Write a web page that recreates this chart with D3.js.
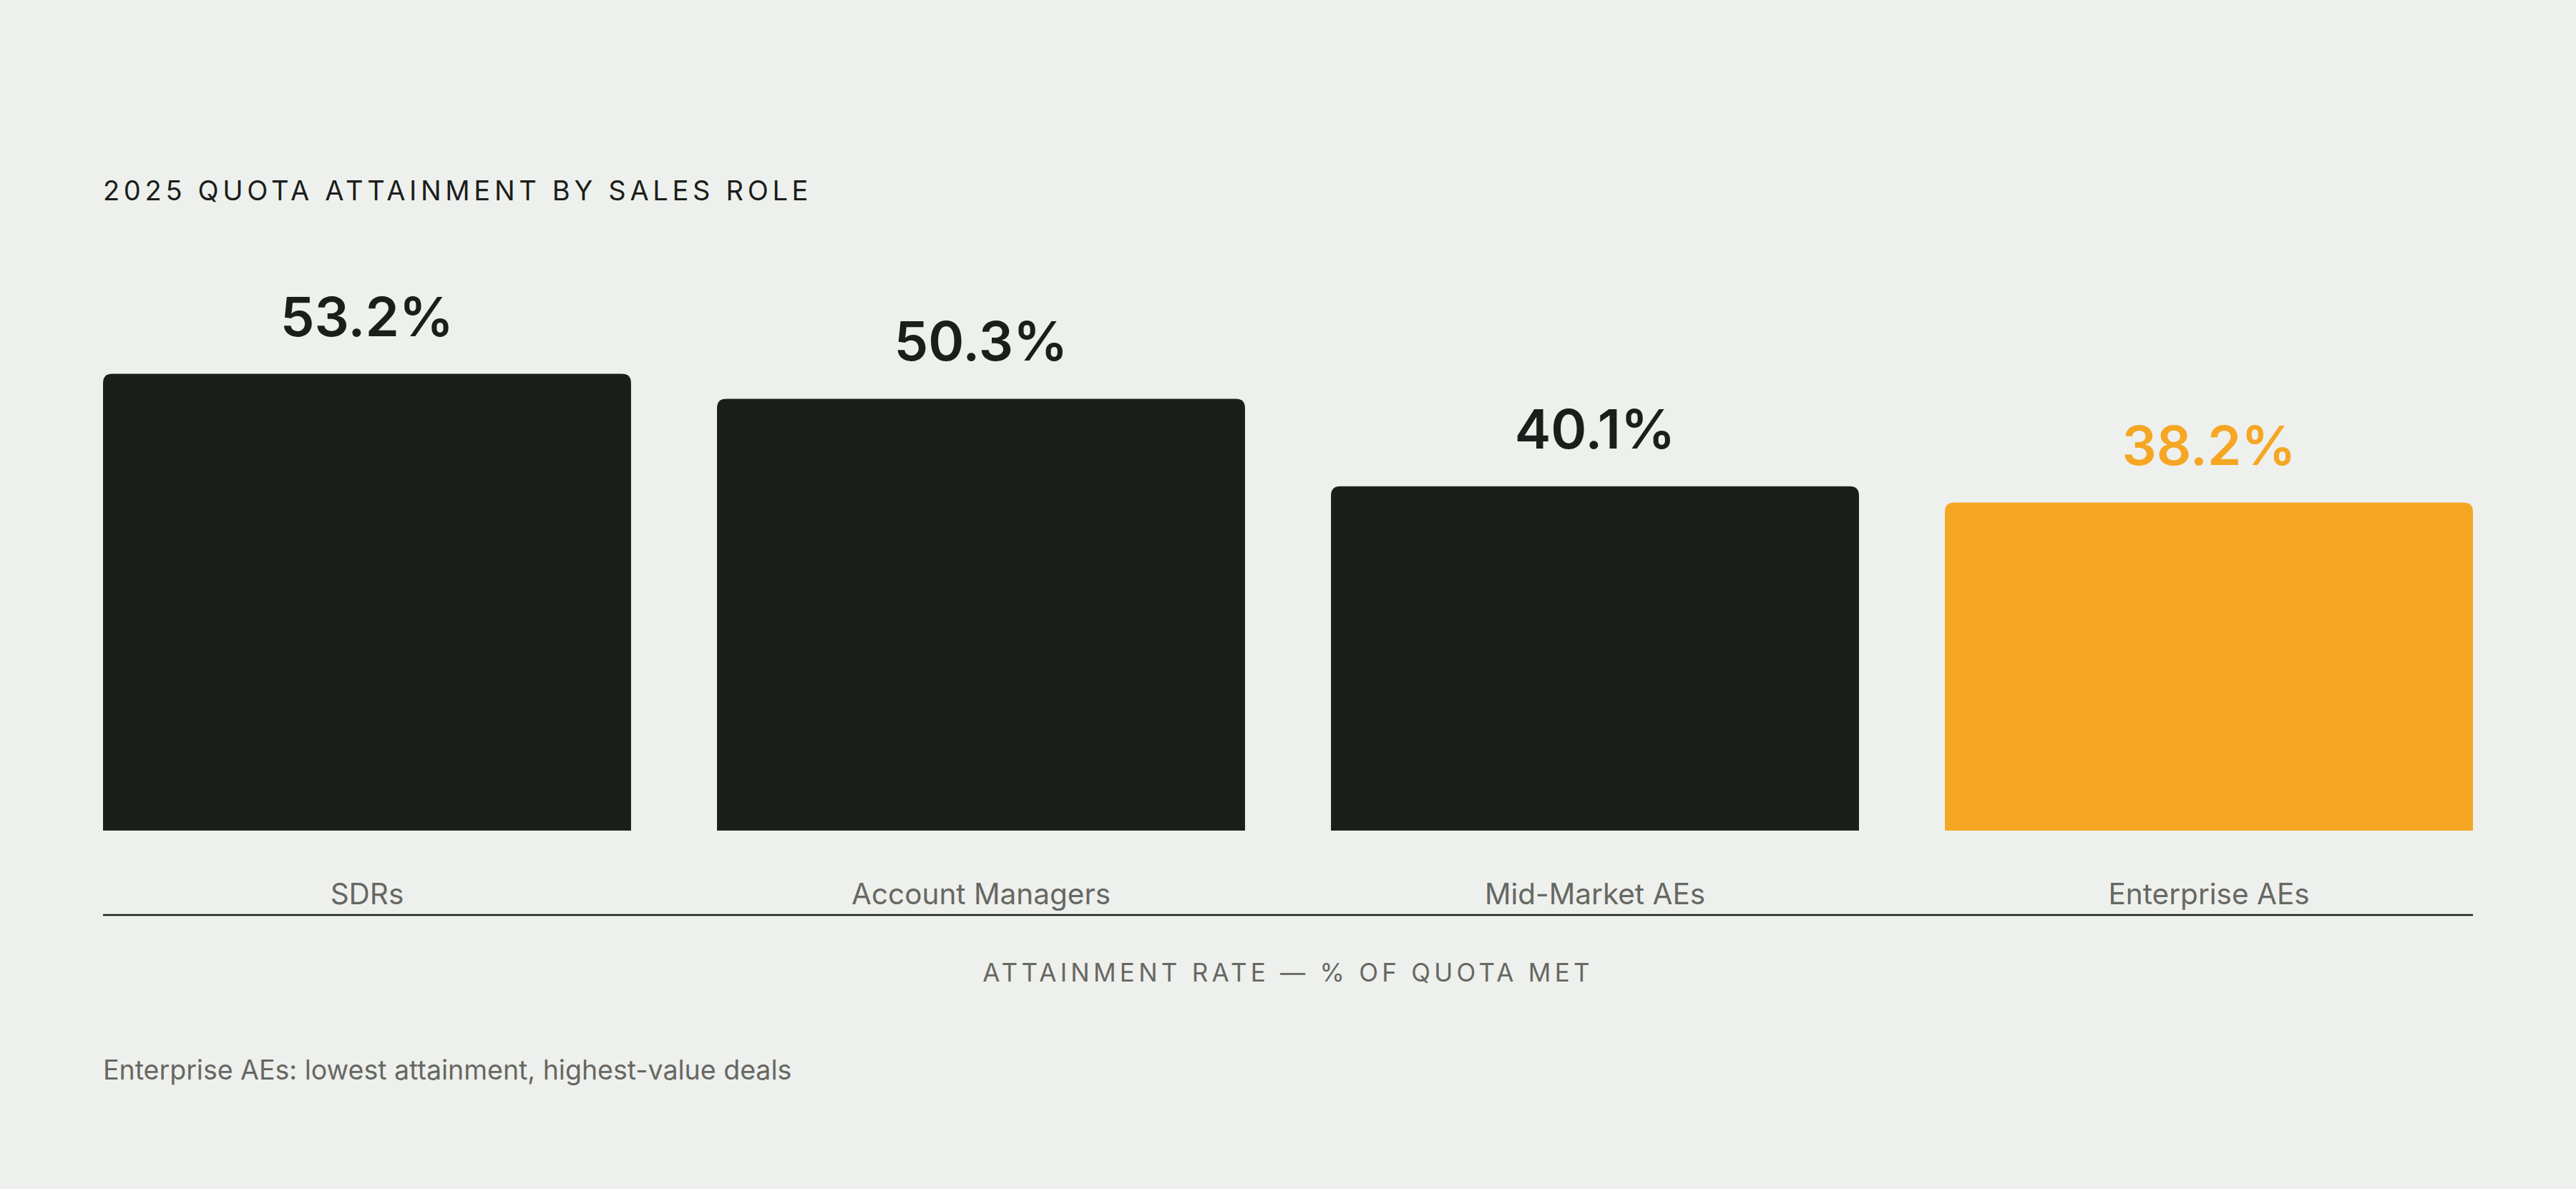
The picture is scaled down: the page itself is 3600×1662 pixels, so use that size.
<!DOCTYPE html>
<html>
<head>
<meta charset="utf-8">
<script src="https://cdn.jsdelivr.net/npm/d3@7"></script>
<style>
  html, body { margin: 0; padding: 0; background: #eef0ed; }
  svg { display: block; font-family: Inter, "Noto Sans", sans-serif; }
</style>
</head>
<body>
<svg id="chart" width="3600" height="1662"></svg>
<script>
const roles = ["SDRs", "Account Managers", "Mid-Market AEs", "Enterprise AEs"];
const attainment = [53.2, 50.3, 40.1, 38.2];
const highlight = "Enterprise AEs";

const TITLE = "2025 QUOTA ATTAINMENT BY SALES ROLE";
const AXIS_TITLE = "ATTAINMENT RATE \u2014 % OF QUOTA MET";
const NOTE = "Enterprise AEs: lowest attainment, highest-value deals";

const svg = d3.select("#chart");
const LEFT = 144;
const RIGHT = 3456;
const BASE = 1161;
const RADIUS = 13;

const data = roles.map((r, i) => ({ role: r, value: attainment[i] }));

let xScale = d3.scaleBand()
               .domain(roles)
               .range([LEFT, RIGHT])
               .paddingInner(0.14)
               .paddingOuter(0);

let yScale = d3.scaleLinear()
               .domain([0, 60])
               .range([BASE, BASE - 720]);

// bar with rounded top corners only
function barPath(d) {
    const x0 = xScale(d.role), x1 = x0 + xScale.bandwidth();
    const y0 = yScale(d.value), y1 = yScale(0);
    const r = RADIUS;
    return `M${x0},${y1}V${y0 + r}Q${x0},${y0} ${x0 + r},${y0}` +
           `H${x1 - r}Q${x1},${y0} ${x1},${y0 + r}V${y1}Z`;
}

svg.append("text")
   .attr("x", LEFT)
   .attr("y", 280)
   .attr("font-size", 38)
   .attr("letter-spacing", "0.15em")
   .attr("fill", "#1b1e1b")
   .text(TITLE);

svg.selectAll("path.bar")
   .data(data)
   .enter()
   .append("path")
   .attr("class", "bar")
   .attr("d", barPath)
   .attr("fill", d => d.role === highlight ? "#f5a623" : "#1b1f1b");

svg.selectAll("text.value")
   .data(data)
   .enter()
   .append("text")
   .attr("class", "value")
   .attr("x", d => xScale(d.role) + xScale.bandwidth() / 2)
   .attr("y", d => yScale(d.value) - 53)
   .attr("text-anchor", "middle")
   .attr("font-size", 76)
   .attr("font-weight", 600)
   .attr("fill", d => d.role === highlight ? "#f5a623" : "#1b1e1b")
   .text(d => d.value.toFixed(1) + "%");

const xAxis = d3.axisBottom()
                .scale(xScale)
                .tickSize(0);

const gx = svg.append("g")
              .attr("transform", `translate(0, ${BASE})`)
              .call(xAxis);

gx.select(".domain").remove();
gx.selectAll("text")
  .attr("y", 103)
  .attr("dy", 0)
  .attr("font-family", "Inter, sans-serif")
  .attr("font-size", 40.5)
  .attr("fill", "#666862");

svg.append("line")
   .attr("x1", LEFT)
   .attr("x2", RIGHT)
   .attr("y1", 1279)
   .attr("y2", 1279)
   .attr("stroke", "#1b1e1b")
   .attr("stroke-width", 2.5);

svg.append("text")
   .attr("x", (LEFT + RIGHT) / 2)
   .attr("y", 1372)
   .attr("text-anchor", "middle")
   .attr("font-size", 35)
   .attr("letter-spacing", "0.15em")
   .attr("fill", "#666862")
   .text(AXIS_TITLE);

svg.append("text")
   .attr("x", LEFT)
   .attr("y", 1509)
   .attr("font-size", 37.5)
   .attr("fill", "#666862")
   .text(NOTE);
</script>
</body>
</html>
